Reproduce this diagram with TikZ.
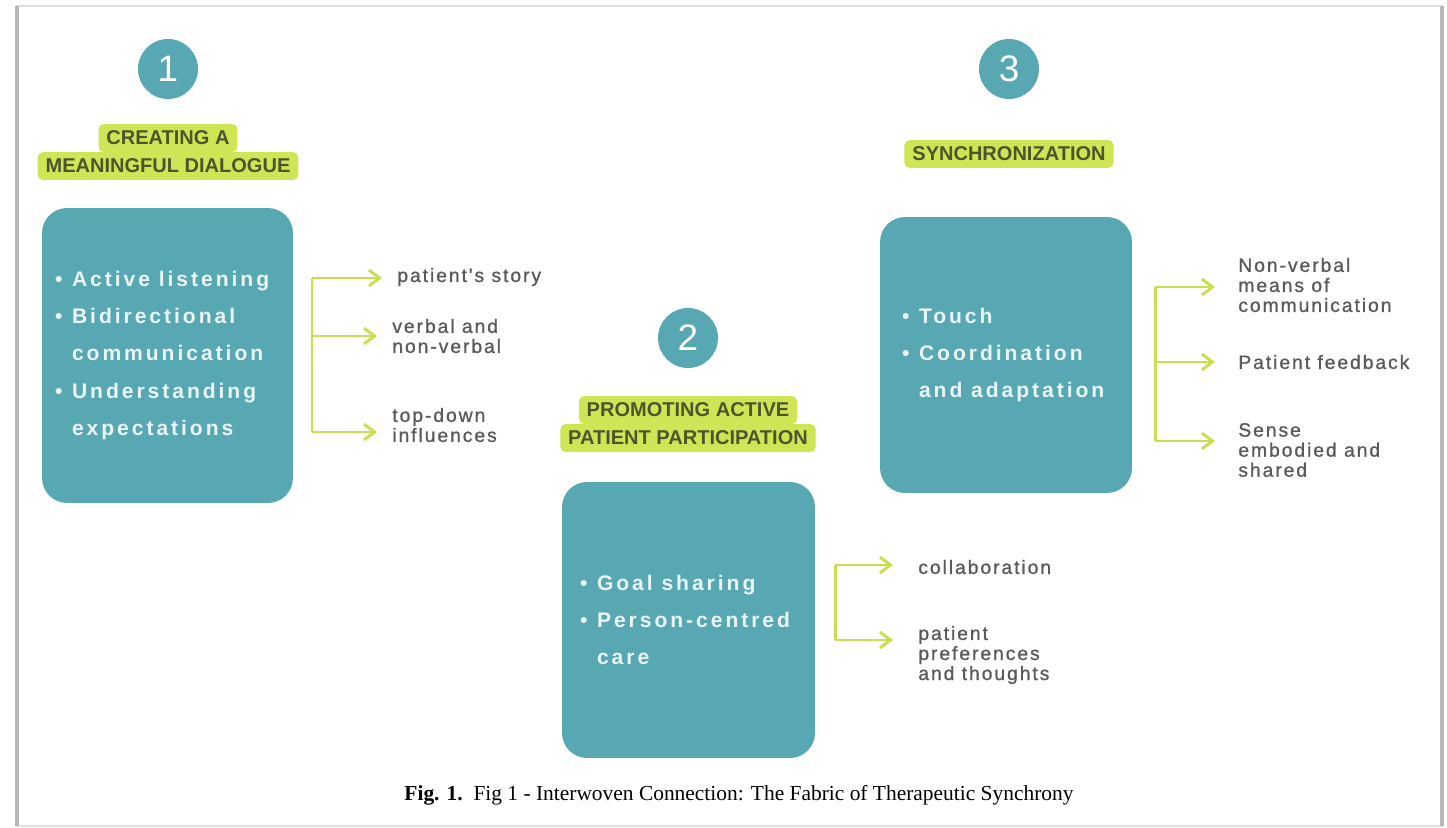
\documentclass[tikz,border=0pt]{standalone}
\usepackage{fontspec}
\setmainfont{Liberation Serif}
\newfontfamily\headfont{Liberation Sans}
\newfontfamily\boxfont[LetterSpace=14]{Liberation Sans}
\newfontfamily\subfont[LetterSpace=10, FakeBold=1]{Liberation Sans}
\usepackage{tikz}
\usetikzlibrary{arrows.meta, positioning}

\definecolor{tealbox}{HTML}{58A8B4}
\definecolor{limetag}{HTML}{D0E555}
\definecolor{limearr}{HTML}{C8DF50}
\definecolor{olivetext}{HTML}{4D552D}
\definecolor{subgray}{HTML}{5A5A5A}
\definecolor{boxwhite}{HTML}{EAF5F5}

\newcommand{\bul}{\makebox[0.34cm][l]{•}}
\newcommand{\ind}{\hspace*{0.34cm}}

\begin{document}
\begin{tikzpicture}[
            x=0.02cm, y=-0.02cm,
            num/.style={circle, fill=tealbox, text=white, minimum size=1.2cm, inner sep=0pt, font=\headfont\fontsize{21}{21}\selectfont}, % numbered circles
            tag/.style={fill=limetag, text=olivetext, rounded corners=3pt, inner xsep=4.5pt, inner ysep=0pt, minimum height=0.56cm, font=\headfont\bfseries\fontsize{11.4}{12}\selectfont}, % highlighted titles
            card/.style={fill=tealbox, rounded corners=0.5cm, inner sep=0pt}, % teal boxes
            cardtext/.style={text=boxwhite, align=left, inner sep=0pt, font=\boxfont\bfseries\fontsize{12}{21.3}\selectfont},
            sub/.style={text=subgray, align=left, inner sep=0pt, anchor=west, font=\subfont\fontsize{11}{11.4}\selectfont}, % texts behind the arrows
            branch/.style={draw=limearr, line width=1.7pt},
            arr/.style={branch, -{Straight Barb[length=6pt, width=9pt]}}
            ]

        % page frame
        \useasboundingbox (0,0) rectangle (1447,828);
        \draw[black!12, line width=0.8pt] (17,6) rectangle (1442,826);
        \draw[black!28, line width=2pt] (17,6) -- (17,826);
        \draw[black!28, line width=2pt] (1442,6) -- (1442,826);

        % 1 - dialogue
        \node[num] (c1) at (168,69) {1};
        \node[tag] (h1b) at (168,166) {MEANINGFUL DIALOGUE};
        \node[tag] (h1a) at (168,138) {CREATING A};
        \node[card, minimum width=5.02cm, minimum height=5.9cm] (box1) at (167.5,355.5) {};
        \node[cardtext, right=0.26cm of box1.west] (txt1) {\bul Active listening\\ \bul Bidirectional\\ \ind communication\\ \bul Understanding\\ \ind expectations};
        \node[sub] (s1a) at (397,277) {patient's story};
        \node[sub] (s1b) at (392,336) {verbal and\\non-verbal};
        \node[sub] (s1c) at (392,425) {top-down\\influences};
        \coordinate (t1a) at (312,278);
        \coordinate (t1b) at (312,336);
        \coordinate (t1c) at (312,432);
        \draw[branch] (t1a) -- (t1c);
        \foreach \k in {a,b,c}
            \draw[arr, shorten >=0.3cm] (t1\k) -- (t1\k -| s1\k.west);

        % 2 - participation
        \node[num] (c2) at (688,338) {2};
        \node[tag] (h2b) at (688,438) {PATIENT PARTICIPATION};
        \node[tag] (h2a) at (688,410) {PROMOTING ACTIVE};
        \node[card, minimum width=5.06cm, minimum height=5.52cm] (box2) at (688.5,620) {};
        \node[cardtext, right=0.36cm of box2.west] (txt2) {\bul Goal sharing\\ \bul Person-centred\\ \ind care};
        \node[sub] (s2a) at (918,567) {collaboration};
        \node[sub] (s2b) at (918,655) {patient\\preferences\\and thoughts};
        \coordinate (t2a) at (835,565);
        \coordinate (t2b) at (835,640);
        \draw[branch] (t2a) -- (t2b);
        \foreach \k in {a,b}
            \draw[arr, shorten >=0.5cm] (t2\k) -- (t2\k -| s2\k.west);

        % 3 - synchronization
        \node[num] (c3) at (1009,69) {3};
        \node[tag] (h3) at (1009,154) {SYNCHRONIZATION};
        \node[card, minimum width=5.04cm, minimum height=5.52cm] (box3) at (1006,355) {};
        \node[cardtext, right=0.44cm of box3.west] (txt3) {\bul Touch\\ \bul Coordination\\ \ind and adaptation};
        \node[sub] (s3a) at (1238,285) {Non-verbal\\means of\\communication};
        \node[sub] (s3b) at (1238,362) {Patient feedback};
        \node[sub] (s3c) at (1238,450) {Sense\\embodied and\\shared};
        \coordinate (t3a) at (1155,287);
        \coordinate (t3b) at (1155,362);
        \coordinate (t3c) at (1155,441);
        \draw[branch] (t3a) -- (t3c);
        \foreach \k in {a,b,c}
            \draw[arr, shorten >=0.46cm] (t3\k) -- (t3\k -| s3\k.west);

        % caption
        \node[font=\fontsize{12.2}{14}\selectfont] (cap) at (739,795) {\textbf{Fig. 1.}\enspace Fig 1 - Interwoven Connection: The Fabric of Therapeutic Synchrony};

    \end{tikzpicture}
\end{document}
